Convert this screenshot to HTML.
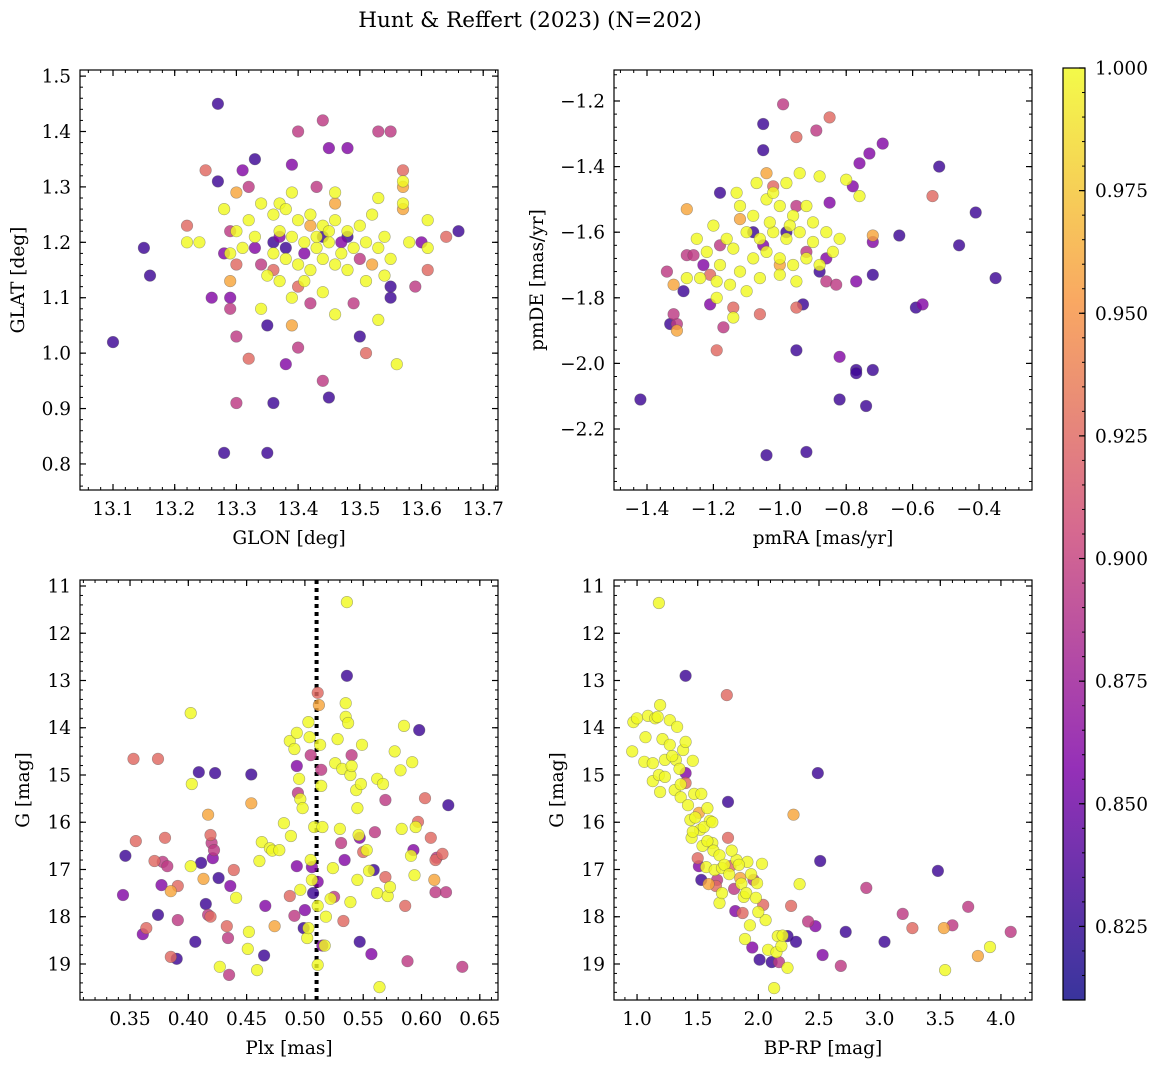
<!DOCTYPE html>
<html><head><meta charset="utf-8"><style>
body{margin:0;background:#fff;}
svg{display:block;font-family:"DejaVu Serif","Liberation Serif",serif;}
</style></head><body>
<svg id="fig" width="1160" height="1067" viewBox="0 0 1160 1067">
<text x="530" y="27" text-anchor="middle" font-size="21.5">Hunt &amp; Reffert (2023) (N=202)</text>
</svg>
<script>
// ---- data: Top-left GLON/GLAT ----
const glon = [13.27,13.44,13.40,13.53,13.55,13.45,13.48,13.33,13.31,13.25,13.57,13.39,13.27,13.32,13.43,13.57,13.57,13.46,13.53,13.30,13.28,13.37,13.57,13.57,13.22,13.22,13.24,13.15,13.16,13.10,13.26,13.28,13.30,13.29,13.29,13.29,13.30,13.32,13.30,13.28,13.35,13.36,13.38,13.40,13.39,13.35,13.34,13.39,13.42,13.44,13.49,13.46,13.50,13.51,13.53,13.55,13.59,13.61,13.61,13.61,13.64,13.66,13.60,13.45,13.44,13.56,13.54,13.51,
13.36,13.38,13.40,13.42,13.44,13.46,13.48,13.50,13.37,13.39,13.41,13.43,13.45,13.47,13.49,13.51,13.36,13.38,13.40,13.42,13.44,13.46,13.48,13.35,13.37,13.41,13.43,13.45,13.33,13.31,13.29,13.53,13.54,13.55,13.52,13.34,13.32,13.39,13.30,13.58,
13.38,13.41,13.34,13.36,13.44,13.47,13.50,13.42,13.52,13.37,13.46,13.40,13.55,13.33,13.29,13.48,13.36];
const glat = [1.45,1.42,1.40,1.40,1.40,1.37,1.37,1.35,1.33,1.33,1.33,1.34,1.31,1.30,1.30,1.31,1.30,1.29,1.28,1.29,1.26,1.27,1.27,1.26,1.23,1.20,1.20,1.19,1.14,1.02,1.10,1.18,1.16,1.13,1.10,1.08,1.03,0.99,0.91,0.82,0.82,0.91,0.98,1.01,1.05,1.05,1.08,1.10,1.09,1.11,1.09,1.07,1.03,1.00,1.06,1.10,1.12,1.15,1.24,1.19,1.21,1.22,1.20,0.92,0.95,0.98,1.14,1.13,
1.25,1.26,1.24,1.25,1.23,1.24,1.22,1.23,1.22,1.21,1.20,1.19,1.20,1.18,1.19,1.20,1.18,1.17,1.16,1.15,1.17,1.16,1.15,1.14,1.13,1.13,1.21,1.22,1.21,1.19,1.18,1.19,1.21,1.17,1.25,1.27,1.24,1.29,1.22,1.20,
1.19,1.18,1.16,1.15,1.21,1.20,1.17,1.23,1.16,1.21,1.27,1.12,1.12,1.19,1.22,1.21,1.20];
const probTL = [0.83,0.895,0.895,0.895,0.895,0.86,0.86,0.83,0.86,0.925,0.925,0.86,0.83,0.895,0.895,1,0.96,1,1,0.96,1,1,1,0.96,0.925,1,1,0.83,0.83,0.83,0.86,0.86,0.925,0.96,0.86,0.895,0.895,0.925,0.895,0.83,0.83,0.83,0.86,0.895,0.96,0.83,1,1,0.895,1,0.895,1,0.83,0.925,1,0.83,0.895,0.925,1,1,0.925,0.83,0.86,0.83,0.895,1,1,1,
1,1,1,1,1,1,1,1,1,1,1,1,1,1,1,1,1,1,1,1,1,1,1,1,1,1,1,1,1,1,1,1,1,1,1,1,1,1,1,1,
0.83,0.86,0.895,0.925,0.83,0.86,0.895,0.96,0.96,0.86,0.96,0.925,0.83,0.86,0.895,0.83,0.83];
// ---- data: Top-right pmRA/pmDE ----
const pmra = [-0.99,-0.85,-0.89,-0.95,-1.05,-1.05,-0.73,-0.69,-0.76,-0.52,-0.54,-0.41,-0.46,-0.35,-0.64,-0.72,-0.72,-0.76,-0.88,-0.80,-0.78,-0.85,-1.18,-1.28,-0.72,-0.77,-0.86,-0.93,-0.83,-0.95,-1.06,-1.14,-1.17,-1.19,-1.31,-1.31,-1.32,-1.33,-1.29,-1.34,-1.32,-1.42,-1.28,-1.26,-1.23,-1.21,-0.95,-0.82,-0.82,-0.77,-0.77,-0.72,-0.74,-0.57,-0.59,-1.04,-0.92,-1.28,-1.24,-1.19,-1.19,-1.14,
-1.12,-1.08,-1.04,-1.00,-0.96,-0.92,-0.98,-0.94,-1.02,-1.10,-1.06,-1.02,-0.98,-0.94,-0.90,-0.86,-1.14,-1.08,-1.04,-1.00,-0.96,-0.92,-0.88,-1.12,-1.06,-1.00,-0.95,-1.16,-1.20,-1.22,-1.18,-1.15,-1.10,-1.03,-0.97,-0.90,-0.84,-0.82,-1.25,-1.13,-1.07,
-1.04,-1.02,-0.98,-1.05,-0.92,-0.88,-1.12,-1.00,-0.86,-1.18,-0.95,-1.08,-1.21];
const pmde = [-1.21,-1.25,-1.29,-1.31,-1.35,-1.27,-1.36,-1.33,-1.39,-1.40,-1.49,-1.54,-1.64,-1.74,-1.61,-1.63,-1.61,-1.49,-1.43,-1.44,-1.46,-1.51,-1.48,-1.53,-1.73,-1.75,-1.75,-1.82,-1.76,-1.83,-1.85,-1.83,-1.89,-1.96,-1.88,-1.90,-1.85,-1.88,-1.78,-1.72,-1.76,-2.11,-1.67,-1.67,-1.70,-1.82,-1.96,-1.98,-2.11,-2.02,-2.03,-2.02,-2.13,-1.82,-1.83,-2.28,-2.27,-1.74,-1.74,-1.75,-1.80,-1.86,
-1.52,-1.55,-1.50,-1.52,-1.55,-1.52,-1.45,-1.42,-1.48,-1.60,-1.62,-1.60,-1.62,-1.60,-1.63,-1.60,-1.65,-1.68,-1.66,-1.68,-1.70,-1.68,-1.70,-1.72,-1.74,-1.73,-1.75,-1.62,-1.58,-1.66,-1.70,-1.76,-1.78,-1.57,-1.58,-1.57,-1.66,-1.62,-1.62,-1.48,-1.45,
-1.42,-1.46,-1.60,-1.64,-1.66,-1.72,-1.56,-1.70,-1.68,-1.64,-1.52,-1.60,-1.73];
const probTR = [0.895,0.925,0.895,0.925,0.83,0.83,0.86,0.86,0.86,0.83,0.925,0.83,0.83,0.83,0.83,0.86,0.96,1,1,1,0.86,0.86,0.83,0.96,0.83,0.86,0.895,0.83,0.895,0.925,0.925,0.925,0.895,0.925,0.895,0.96,0.895,0.83,0.83,0.895,0.96,0.83,0.895,0.895,0.86,0.86,0.83,0.86,0.83,0.83,0.83,0.83,0.83,0.86,0.83,0.83,0.83,1,1,1,1,1,
1,1,1,1,1,1,1,1,1,1,1,1,1,1,1,1,1,1,1,1,1,1,1,1,1,1,1,1,1,1,1,1,1,1,1,1,1,1,1,1,1,
0.96,0.925,0.83,0.86,0.895,0.83,0.96,0.96,0.86,0.895,0.895,0.83,0.925];
// ---- data: Bottom-left Plx/G ----
const plx = [0.361,0.353,0.355,0.346,0.344,0.374,0.364,0.374,0.380,0.371,0.378,0.377,0.385,0.391,0.391,0.385,0.390,0.382,0.402,0.402,0.403,0.406,0.409,0.411,0.413,0.415,0.417,0.419,0.417,0.419,0.420,0.421,0.423,0.426,0.422,0.427,0.433,0.435,0.434,0.436,0.441,0.439,0.452,0.451,0.454,0.454,0.459,0.463,0.461,0.465,0.466,0.474,0.470,0.472,0.478,0.482,0.488,0.487,0.491,0.493,0.496,0.496,0.487,0.491,0.493,0.493,0.494,0.498,0.495,0.500,0.499,0.502,0.503,0.503,0.504,0.505,0.505,0.506,0.506,0.507,0.508,0.511,0.511,0.511,0.511,0.512,0.513,0.514,0.514,0.515,0.515,0.517,0.518,0.522,0.524,0.525,0.526,0.528,0.532,0.530,0.531,0.533,0.534,0.536,0.536,0.535,0.537,0.535,0.539,0.540,0.539,0.540,0.544,0.545,0.545,0.546,0.547,0.547,0.548,0.549,0.550,0.553,0.555,0.557,0.559,0.560,0.562,0.562,0.564,0.567,0.569,0.569,0.571,0.573,0.577,0.582,0.583,0.585,0.586,0.588,0.591,0.592,0.593,0.594,0.595,0.597,0.598,0.603,0.608,0.612,0.611,0.612,0.613,0.618,0.621,0.623,0.635];
const gPlx = [18.37,14.66,16.40,16.71,17.54,17.96,18.24,14.66,16.33,16.82,16.84,17.33,17.46,17.35,18.07,18.85,18.89,16.93,16.93,13.69,15.19,18.53,14.94,16.86,17.20,17.73,17.96,18.00,15.84,16.27,16.44,16.76,14.96,17.18,16.59,19.06,18.20,19.23,18.45,17.35,17.60,17.01,18.32,18.68,15.60,14.99,19.13,16.42,16.82,18.82,17.77,18.20,16.55,16.60,16.59,16.02,16.29,17.56,17.98,16.93,17.43,15.51,14.28,14.45,14.11,14.81,15.38,15.70,15.08,17.86,18.24,18.45,18.24,13.88,14.20,14.58,16.80,16.95,17.22,17.50,16.10,13.26,17.77,19.02,17.26,13.52,14.36,14.89,15.23,16.10,18.61,18.61,18.00,17.62,16.97,17.58,14.75,14.24,14.87,16.14,16.44,18.09,16.80,12.90,11.34,13.77,13.90,13.48,15.00,14.58,17.69,14.81,15.32,15.70,17.22,16.27,16.33,18.53,15.19,14.36,16.63,16.59,17.03,18.79,17.01,16.21,15.08,17.50,19.49,15.19,15.53,17.16,17.56,17.37,14.50,14.90,16.14,13.96,17.77,18.94,16.71,14.73,16.59,17.12,16.10,15.99,14.05,15.49,16.33,16.80,17.22,17.48,16.75,16.67,17.48,15.64,19.06];
const probBL = [0.86,0.925,0.925,0.83,0.86,0.83,0.925,0.925,0.925,0.925,0.895,0.86,0.96,0.925,0.895,0.925,0.83,0.895,1,1,1,0.83,0.83,0.83,0.96,0.83,0.895,0.925,0.96,0.925,0.895,0.86,0.83,0.83,0.895,1,0.925,0.895,0.895,0.86,1,0.925,1,1,0.96,0.83,1,1,1,0.83,0.86,0.96,1,1,1,1,1,0.925,0.895,0.86,1,1,1,1,1,0.86,0.895,1,1,0.86,0.83,1,1,1,1,0.895,1,0.86,1,0.83,1,0.925,1,1,0.86,0.96,1,0.895,1,1,0.86,1,1,1,1,0.895,1,1,1,1,0.895,0.925,0.86,0.83,1,1,1,1,1,0.895,1,1,1,1,1,1,0.86,0.83,1,1,0.925,1,1,0.86,0.83,0.895,1,1,1,1,0.895,0.925,1,1,1,1,1,1,0.925,0.895,1,1,0.86,1,1,0.925,0.83,0.925,0.925,0.925,0.96,0.895,0.895,0.925,0.895,0.83,0.895];
// ---- data: Bottom-right BP-RP/G ----
const bprp = [0.97,1.00,0.96,1.07,1.06,1.09,1.15,1.19,1.17,1.18,1.13,1.13,1.19,1.18,1.23,1.23,1.21,1.27,1.27,1.33,1.32,1.31,1.36,1.35,1.38,1.40,1.40,1.40,1.42,1.44,1.45,1.46,1.47,1.51,1.52,1.50,1.51,1.53,1.54,1.57,1.59,1.60,1.62,1.64,1.65,1.66,1.68,1.70,1.74,1.75,1.75,1.77,1.80,1.81,1.82,1.85,1.87,1.88,1.89,1.91,1.93,1.95,1.96,1.99,2.01,2.03,2.04,2.06,2.08,2.11,2.13,2.15,2.16,2.17,2.19,2.24,2.24,2.27,2.29,2.31,2.34,2.41,2.47,2.49,2.51,2.53,2.68,2.72,2.89,3.04,3.19,3.27,3.48,3.53,3.60,3.54,3.73,3.81,3.91,4.08,
1.55,1.58,1.63,1.68,1.72,1.76,1.78,1.84,1.86,1.90,1.94,1.98,1.48,1.46,1.53,1.58,1.62,1.36,1.29,1.40,2.00,1.70,2.20];
const gCmd = [13.88,13.80,14.50,14.20,14.72,13.75,13.80,13.52,13.77,11.36,14.75,15.13,15.36,15.00,15.04,14.68,14.24,14.36,13.84,13.98,14.68,15.32,15.47,14.87,14.47,12.90,14.96,15.17,15.64,15.95,16.33,14.70,15.40,15.80,16.16,16.76,16.93,17.22,16.50,16.95,17.31,15.97,16.44,17.01,17.35,17.22,17.71,16.97,13.31,15.57,16.33,16.93,17.41,17.88,16.80,17.18,17.92,17.58,18.47,16.84,18.18,18.65,17.22,17.29,18.91,16.88,17.75,18.07,18.70,18.96,19.51,18.75,18.41,18.96,18.62,19.08,18.41,17.77,15.84,18.53,17.31,18.10,18.20,14.96,16.82,18.81,19.04,18.32,17.39,18.53,17.94,18.24,17.03,18.24,18.18,19.13,17.79,18.83,18.64,18.32,
16.10,16.40,16.60,16.70,16.90,17.10,16.60,16.90,17.30,17.50,17.10,17.60,15.90,16.20,15.40,15.70,16.00,15.20,14.60,14.30,17.90,17.50,18.40];
const probBR = [1,1,1,1,1,1,1,1,1,1,1,1,1,1,1,1,1,1,1,1,1,1,1,1,1,0.83,0.86,0.925,1,1,1,1,1,0.96,1,0.925,0.86,0.83,1,1,0.96,1,1,1,0.925,0.895,1,1,0.925,0.83,0.925,0.925,0.895,0.86,1,0.96,0.925,1,1,1,1,0.86,0.895,1,0.83,1,0.925,1,1,0.83,1,1,1,0.895,1,1,0.83,0.925,0.96,0.83,1,0.895,0.86,0.83,0.83,0.86,0.895,0.83,0.895,0.83,0.895,0.925,0.83,0.96,0.895,1,0.895,0.96,1,0.895,
1,1,1,1,1,1,1,1,1,1,1,1,1,1,1,1,1,1,1,1,1,1,1];
// ---- colorbar ticks ----
const cbTicks = [0.825,0.850,0.875,0.900,0.925,0.950,0.975,1.000];
const VMIN = 0.81, VMAX = 1.0;

const NS = "http://www.w3.org/2000/svg";
const svg = document.getElementById('fig');
const TICKFS = 18.5, LABFS = 18.5;
function mk(tag, attrs, parent){const e=document.createElementNS(NS,tag);for(const k in attrs)e.setAttribute(k,attrs[k]);(parent||svg).appendChild(e);return e;}
const stops=[[0,[13,8,135]],[0.25,[126,3,168]],[0.5,[204,71,120]],[0.75,[248,149,64]],[1,[240,249,33]]];
function plasma(t){t=Math.max(0,Math.min(1,t));for(let i=1;i<stops.length;i++){if(t<=stops[i][0]){const a=stops[i-1],b=stops[i];const f=(t-a[0])/(b[0]-a[0]);const c=a[1].map((v,j)=>Math.round(v+(b[1][j]-v)*f));return `rgb(${c[0]},${c[1]},${c[2]})`;}}return 'rgb(240,249,33)';}
function fmt(v,d){const s=Math.abs(v).toFixed(d);return (v<-1e-9?'\u2212':'')+s;}

function panel(cfg, xs, ys, ps){
  const g=mk('g',{});
  
  
  const {L,T,R,B}=cfg;
  const sx=v=>L+(v-cfg.x0)/(cfg.x1-cfg.x0)*(R-L);
  const sy=v=>cfg.inv? T+(v-cfg.y0)/(cfg.y1-cfg.y0)*(B-T) : B-(v-cfg.y0)/(cfg.y1-cfg.y0)*(B-T);
  if(cfg.vline!==undefined){
    const l=mk('line',{x1:sx(cfg.vline),x2:sx(cfg.vline),y1:T,y2:B,stroke:'#000','stroke-width':4,'stroke-dasharray':'4,4'},g);
    
    
  }
  const pts=mk('g',{},g);
  
  
  const order=xs.map((_,i)=>i).sort((a,b)=>ps[a]-ps[b]);
  order.forEach(i=>{
    const c=mk('circle',{cx:sx(xs[i]).toFixed(1),cy:sy(ys[i]).toFixed(1),r:5.8,fill:plasma((ps[i]-VMIN)/(VMAX-VMIN)),'fill-opacity':0.82,stroke:'#555','stroke-opacity':0.5,'stroke-width':0.6},pts);
    
    
  });
  const fr=mk('rect',{x:L,y:T,width:R-L,height:B-T,fill:'none',stroke:'#000','stroke-width':1.2},g);
  
  
  const eps=1e-9;
  for(let v=Math.ceil(cfg.x0/cfg.xm-eps)*cfg.xm; v<=cfg.x1+eps; v+=cfg.xm){const x=sx(v);mk('line',{x1:x,x2:x,y1:B,y2:B-3,stroke:'#000'},g);mk('line',{x1:x,x2:x,y1:T,y2:T+3,stroke:'#000'},g);}
  const ylo=Math.min(cfg.y0,cfg.y1), yhi=Math.max(cfg.y0,cfg.y1);
  for(let v=Math.ceil(ylo/cfg.ym-eps)*cfg.ym; v<=yhi+eps; v+=cfg.ym){const y=sy(v);mk('line',{x1:L,x2:L+3,y1:y,y2:y,stroke:'#000'},g);mk('line',{x1:R,x2:R-3,y1:y,y2:y,stroke:'#000'},g);}
  cfg.xt.forEach(v=>{const x=sx(v);mk('line',{x1:x,x2:x,y1:B,y2:B-6,stroke:'#000','stroke-width':1.2},g);mk('line',{x1:x,x2:x,y1:T,y2:T+6,stroke:'#000','stroke-width':1.2},g);
    const t=mk('text',{x:x,y:B+25,'text-anchor':'middle','font-size':TICKFS},g);t.textContent=fmt(v,cfg.xd);
    });
  cfg.yt.forEach(v=>{const y=sy(v);mk('line',{x1:L,x2:L+6,y1:y,y2:y,stroke:'#000','stroke-width':1.2},g);mk('line',{x1:R,x2:R-6,y1:y,y2:y,stroke:'#000','stroke-width':1.2},g);
    const t=mk('text',{x:L-9,y:y+6.5,'text-anchor':'end','font-size':TICKFS},g);t.textContent=fmt(v,cfg.yd);
    });
  const xl=mk('text',{x:(L+R)/2,y:B+54,'text-anchor':'middle','font-size':LABFS},g);xl.textContent=cfg.xlab;
  
  const yx=cfg.ylx, yc=(T+B)/2;
  const yl=mk('text',{x:yx,y:yc,'text-anchor':'middle','font-size':LABFS,transform:`rotate(-90 ${yx} ${yc})`},g);yl.textContent=cfg.ylab;
  
}

panel({name:'glon-glat-panel',L:80,T:70,R:498,B:490,x0:13.0465,x1:13.724,y0:0.753,y1:1.511,xm:0.02,ym:0.02,
  xt:[13.1,13.2,13.3,13.4,13.5,13.6,13.7],yt:[0.8,0.9,1.0,1.1,1.2,1.3,1.4,1.5],xd:1,yd:1,xlab:'GLON [deg]',ylab:'GLAT [deg]',ylx:24},glon,glat,probTL);
panel({name:'proper-motion-panel',L:614,T:70,R:1032,B:490,x0:-1.4994,x1:-0.2404,y0:-2.386,y1:-1.1055,xm:0.04,ym:0.04,
  xt:[-1.4,-1.2,-1.0,-0.8,-0.6,-0.4],yt:[-2.2,-2.0,-1.8,-1.6,-1.4,-1.2],xd:1,yd:1,xlab:'pmRA [mas/yr]',ylab:'pmDE [mas/yr]',ylx:543},pmra,pmde,probTR);
panel({name:'parallax-mag-panel',L:80,T:580,R:498,B:1000,x0:0.3071,x1:0.6656,y0:10.873,y1:19.762,inv:true,xm:0.01,ym:0.2,vline:0.51,
  xt:[0.35,0.40,0.45,0.50,0.55,0.60,0.65],yt:[11,12,13,14,15,16,17,18,19],xd:2,yd:0,xlab:'Plx [mas]',ylab:'G [mag]',ylx:29},plx,gPlx,probBL);
panel({name:'cmd-panel',L:614,T:580,R:1032,B:1000,x0:0.810,x1:4.256,y0:10.873,y1:19.762,inv:true,xm:0.1,ym:0.2,
  xt:[1.0,1.5,2.0,2.5,3.0,3.5,4.0],yt:[11,12,13,14,15,16,17,18,19],xd:1,yd:0,xlab:'BP-RP [mag]',ylab:'G [mag]',ylx:563},bprp,gCmd,probBR);

const cb=mk('g',{});


const defs=mk('defs',{},cb);
const lg=mk('linearGradient',{id:'cbg',x1:0,y1:1,x2:0,y2:0},defs);
for(let i=0;i<=20;i++){mk('stop',{offset:i/20,'stop-color':plasma(i/20),'stop-opacity':0.82},lg);}
const CT=68,CB=1000,CL=1063,CR=1085;
mk('rect',{x:CL,y:CT,width:CR-CL,height:CB-CT,fill:'url(#cbg)',stroke:'#000','stroke-width':1.2},cb);
const cy=v=>CB-(v-VMIN)/(VMAX-VMIN)*(CB-CT);
for(let v=0.815; v<=1.0001; v+=0.005){mk('line',{x1:CR,x2:CR-3,y1:cy(v),y2:cy(v),stroke:'#000'},cb);}
cbTicks.forEach(v=>{mk('line',{x1:CR,x2:CR-6,y1:cy(v),y2:cy(v),stroke:'#000','stroke-width':1.2},cb);
  const t=mk('text',{x:CR+10,y:cy(v)+6.5,'font-size':TICKFS},cb);t.textContent=v.toFixed(3);
  });
</script>
</body></html>
